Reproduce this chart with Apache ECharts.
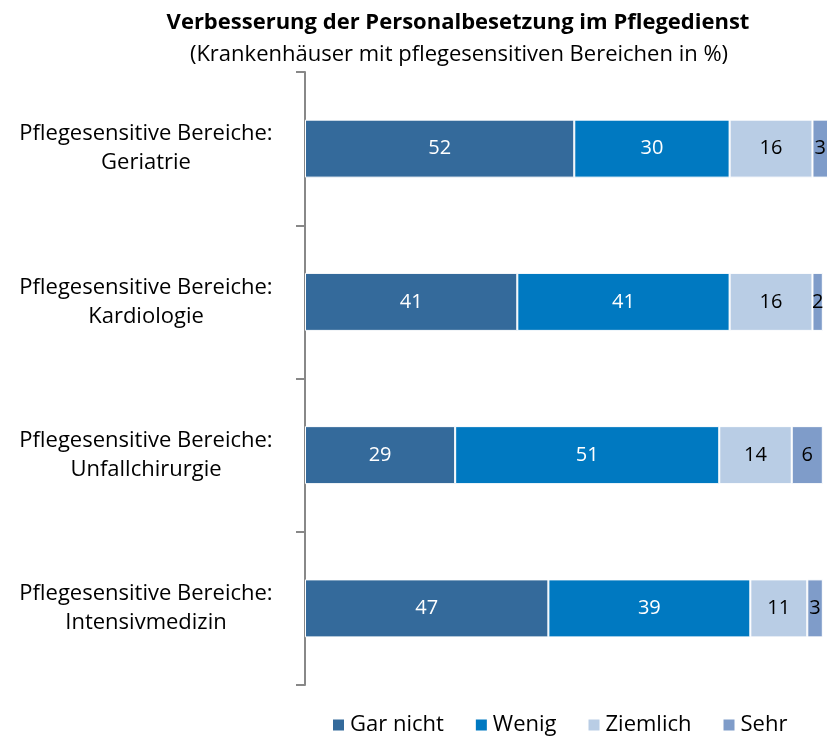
<!DOCTYPE html>
<html>
<head>
<meta charset="utf-8">
<script src="https://cdn.jsdelivr.net/npm/echarts@6/dist/echarts.min.js"></script>
<style>
  html, body { margin: 0; padding: 0; background: #fff; }
  #chart { width: 831px; height: 740px; }
</style>
</head>
<body>
<div id="chart"></div>
<script>
var categories = [
  'Pflegesensitive Bereiche:\nGeriatrie',
  'Pflegesensitive Bereiche:\nKardiologie',
  'Pflegesensitive Bereiche:\nUnfallchirurgie',
  'Pflegesensitive Bereiche:\nIntensivmedizin'
]
var garNicht = [52, 41, 29, 47]
var wenig = [30, 41, 51, 39]
var ziemlich = [16, 16, 14, 11]
var sehr = [3, 2, 6, 3]

var fontName = '"Open Sans", sans-serif'

function makeSeries (name, data, color, labelColor) {
  return {
    name: name,
    type: 'bar',
    stack: 'total',
    barWidth: 58,
    data: data,
    itemStyle: { color: color, borderColor: '#fff', borderWidth: 1 },
    label: {
      show: true,
      position: 'inside',
      color: labelColor,
      fontFamily: fontName,
      fontSize: 20
    }
  }
}

var chart = echarts.init(document.getElementById('chart'))
chart.setOption({
  animation: false,
  title: [
    {
      text: 'Verbesserung der Personalbesetzung im Pflegedienst',
      left: 453,
      top: 7,
      textAlign: 'center',
      textStyle: { fontFamily: fontName, fontSize: 22, fontWeight: 'bold', color: '#000' }
    },
    {
      text: '(Krankenhäuser mit pflegesensitiven Bereichen in %)',
      left: 454,
      top: 39,
      textAlign: 'center',
      textStyle: { fontFamily: fontName, fontSize: 22, fontWeight: 'normal', color: '#000' }
    }
  ],
  legend: {
    left: 326,
    top: 709,
    itemWidth: 13,
    itemHeight: 13,
    itemGap: 30,
    icon: 'rect',
    textStyle: { fontFamily: fontName, fontSize: 22, color: '#000' },
    data: ['Gar nicht', 'Wenig', 'Ziemlich', 'Sehr']
  },
  grid: { left: 305, right: 3, top: 72, bottom: 55, containLabel: false },
  xAxis: {
    type: 'value',
    min: 0,
    max: 101,
    show: false
  },
  yAxis: {
    type: 'category',
    inverse: true,
    data: categories,
    axisLine: { show: true, lineStyle: { color: '#888', width: 2 } },
    axisTick: { show: true, length: 9, lineStyle: { color: '#888', width: 2 } },
    axisLabel: {
      align: 'center',
      margin: 159,
      fontFamily: fontName,
      fontSize: 22,
      lineHeight: 29,
      color: '#000'
    }
  },
  series: [
    makeSeries('Gar nicht', garNicht, '#346a9b', '#fff'),
    makeSeries('Wenig', wenig, '#0079c1', '#fff'),
    makeSeries('Ziemlich', ziemlich, '#b9cde5', '#000'),
    makeSeries('Sehr', sehr, '#7f9cc9', '#000')
  ]
})
</script>
</body>
</html>
